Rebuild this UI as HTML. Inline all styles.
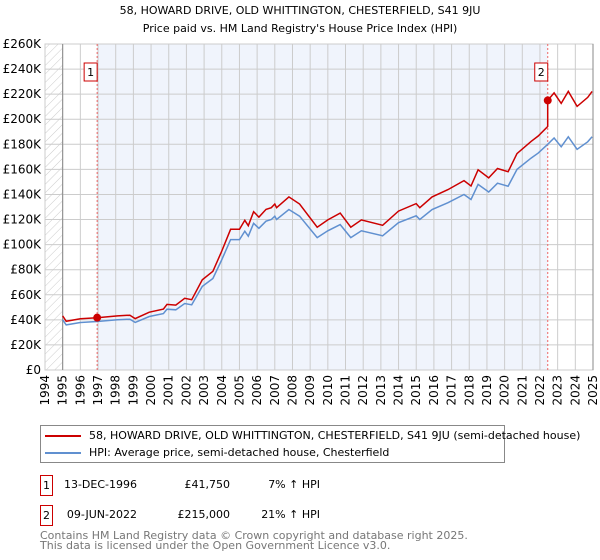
<!DOCTYPE html>
<html><head><meta charset="utf-8"><style>
body{margin:0;background:#fff;font-family:"DejaVu Sans","Liberation Sans",sans-serif;}
#wrap{position:relative;width:600px;height:560px;overflow:hidden;}
.c{white-space:nowrap}
</style></head><body><div id="wrap">
<svg id="chart" width="600" height="420" style="position:absolute;left:0;top:0"></svg>
<div style="position:absolute;left:40px;top:425px;width:463px;height:36px;border:1px solid #888;font-size:11px;">
 <div class="c" style="position:absolute;left:4px;top:3px"><span style="display:inline-block;width:36px;height:2px;background:#cc0000;vertical-align:middle;margin-right:8px"></span>58, HOWARD DRIVE, OLD WHITTINGTON, CHESTERFIELD, S41 9JU (semi-detached house)</div>
 <div class="c" style="position:absolute;left:4px;top:20px"><span style="display:inline-block;width:36px;height:2px;background:#6090d0;vertical-align:middle;margin-right:8px"></span>HPI: Average price, semi-detached house, Chesterfield</div>
</div>
<div style="position:absolute;top:475px;left:0;font-size:11px;">
 <div style="position:absolute;left:40px;top:0;width:11px;height:19px;border:1px solid #cc0000;text-align:center;line-height:19px">1</div>
 <div class="c" style="position:absolute;left:57px;width:80px;text-align:right;top:3px">13-DEC-1996</div>
 <div class="c" style="position:absolute;left:150px;width:80px;text-align:right;top:3px">£41,750</div>
 <div class="c" style="position:absolute;left:240px;width:80px;text-align:right;top:3px">7% ↑ HPI</div>
</div>
<div style="position:absolute;top:505px;left:0;font-size:11px;">
 <div style="position:absolute;left:40px;top:0;width:11px;height:19px;border:1px solid #cc0000;text-align:center;line-height:19px">2</div>
 <div class="c" style="position:absolute;left:57px;width:80px;text-align:right;top:3px">09-JUN-2022</div>
 <div class="c" style="position:absolute;left:150px;width:80px;text-align:right;top:3px">£215,000</div>
 <div class="c" style="position:absolute;left:240px;width:80px;text-align:right;top:3px">21% ↑ HPI</div>
</div>
<div class="c" style="position:absolute;left:40px;top:531px;font-size:11px;color:#777;line-height:10px">Contains HM Land Registry data © Crown copyright and database right 2025.<br>This data is licensed under the Open Government Licence v3.0.</div>
</div>
<script>
const hpiYears=[1995.0,1995.2,1996.0,1996.95,1998.1,1998.8,1999.1,1999.9,2000.7,2000.9,2001.4,2001.9,2002.3,2002.9,2003.5,2004.0,2004.5,2005.0,2005.3,2005.5,2005.8,2006.1,2006.5,2006.8,2007.0,2007.1,2007.8,2008.4,2009.4,2010.0,2010.7,2011.3,2011.9,2013.1,2014.0,2015.0,2015.2,2015.9,2016.8,2017.7,2018.1,2018.5,2019.1,2019.6,2020.2,2020.7,2021.5,2021.9,2022.44,2022.8,2023.2,2023.6,2024.1,2024.7,2024.95];
const hpiValues=[40,36,37.9,38.7,40,40.5,38,42.7,45,48.5,48,53,52,66.7,73,88,104,104,110.7,106.7,117,113,118.7,120,122.7,120,128,122.7,105.6,111,116,105.6,111,107,117.5,123,120,128,133.4,140,136,148,142,149,146.6,160,169,173,180,185,178,186,176,182,186];
const saleYears=[1996.95,2022.44];
const salePrices=[41.75,215];
const saleLabels=["1","2"];
const yTicks=[0,20,40,60,80,100,120,140,160,180,200,220,240,260];
const xTicks=[1994,1995,1996,1997,1998,1999,2000,2001,2002,2003,2004,2005,2006,2007,2008,2009,2010,2011,2012,2013,2014,2015,2016,2017,2018,2019,2020,2021,2022,2023,2024,2025];
const L=45,R=593,T=44,B=370;
const X=y=>L+(y-1994)/31*(R-L);
const Y=v=>B-v/260*(B-T);
const s=document.getElementById('chart');
const NS='http://www.w3.org/2000/svg';
function mk(t,a,p){const e=document.createElementNS(NS,t);for(const k in a)e.setAttribute(k,a[k]);(p||s).appendChild(e);return e;}
function hpiAt(y){for(let i=1;i<hpiYears.length;i++){if(y<=hpiYears[i]){const f=(y-hpiYears[i-1])/(hpiYears[i]-hpiYears[i-1]);return hpiValues[i-1]+f*(hpiValues[i]-hpiValues[i-1]);}}return hpiValues[hpiValues.length-1];}
let defs=mk('defs',{});
let pat=mk('pattern',{id:'hatch',width:6,height:6,patternUnits:'userSpaceOnUse',patternTransform:'rotate(45)'},defs);
mk('line',{x1:0,y1:0,x2:0,y2:6,stroke:'#ccc','stroke-width':1},pat);
let e;
e=mk('rect',{x:L,y:T,width:X(1995)-L,height:B-T,fill:'url(#hatch)'});
e=mk('rect',{x:X(saleYears[0]),y:T,width:X(saleYears[1])-X(saleYears[0]),height:B-T,fill:'#f0f4fc'});
yTicks.forEach(v=>{e=mk('line',{x1:L,x2:R,y1:Y(v),y2:Y(v),stroke:'#ccc'});
 e=mk('text',{x:L-4,y:Y(v)+4,'text-anchor':'end','font-size':12,fill:'#000'});e.textContent=v===0?'£0':'£'+v+'K';});
xTicks.forEach(y=>{e=mk('line',{x1:X(y),x2:X(y),y1:T,y2:B,stroke:'#ccc'});
 e=mk('text',{x:0,y:0,transform:`translate(${X(y)+4},${B+5}) rotate(-90)`,'text-anchor':'end','font-size':12,fill:'#000'});e.textContent=y;});
e=mk('rect',{x:L,y:T,width:R-L,height:B-T,fill:'none',stroke:'#ccc'});
e=mk('line',{x1:X(1995),x2:X(1995),y1:T,y2:B,stroke:'#888'});
e=mk('line',{x1:R,x2:R,y1:T,y2:B,stroke:'#888'});
saleYears.forEach((y,i)=>{e=mk('line',{x1:X(y),x2:X(y),y1:T,y2:B,stroke:'#e66','stroke-dasharray':'2,2'});});
let hp=hpiYears.map((y,i)=>X(y).toFixed(1)+','+Y(hpiValues[i]).toFixed(1)).join(' ');
e=mk('polyline',{points:hp,fill:'none',stroke:'#6090d0','stroke-width':1.5});
const r1=salePrices[0]/hpiAt(saleYears[0]),r2=salePrices[1]/hpiAt(saleYears[1]);
let rp=[];hpiYears.forEach((y,i)=>{if(y<saleYears[1])rp.push([y,hpiValues[i]*r1]);});
rp.push([saleYears[1],hpiAt(saleYears[1])*r1]);rp.push([saleYears[1],salePrices[1]]);
hpiYears.forEach((y,i)=>{if(y>saleYears[1])rp.push([y,hpiValues[i]*r2]);});
e=mk('polyline',{points:rp.map(p=>X(p[0]).toFixed(1)+','+Y(p[1]).toFixed(1)).join(' '),fill:'none',stroke:'#cc0000','stroke-width':1.5});
saleYears.forEach((y,i)=>{e=mk('circle',{cx:X(y),cy:Y(salePrices[i]),r:4,fill:'#cc0000'});
 e=mk('rect',{x:X(y)-13,y:63,width:13,height:18,fill:'#fff',stroke:'#cc0000'});
 e=mk('text',{x:X(y)-6.5,y:76,'text-anchor':'middle','font-size':11});e.textContent=saleLabels[i];});
e=mk('text',{x:300,y:14,'text-anchor':'middle','font-size':11});e.textContent='58, HOWARD DRIVE, OLD WHITTINGTON, CHESTERFIELD, S41 9JU';
e=mk('text',{x:300,y:32,'text-anchor':'middle','font-size':11});e.textContent="Price paid vs. HM Land Registry's House Price Index (HPI)";
</script></body></html>
